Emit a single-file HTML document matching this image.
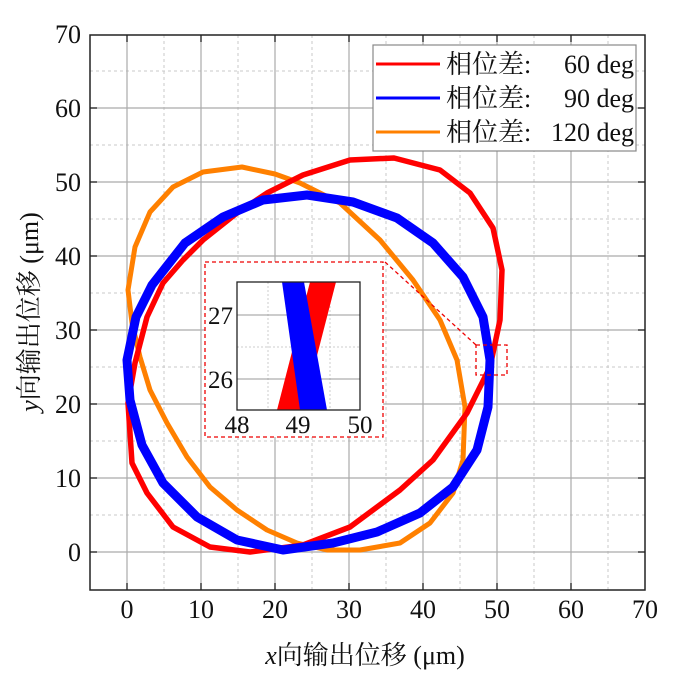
<!DOCTYPE html>
<html><head><meta charset="utf-8"><style>body{margin:0;background:#fff}svg{display:block}</style></head><body>
<svg width="693" height="693" viewBox="0 0 693 693" xmlns="http://www.w3.org/2000/svg" font-family="'Liberation Serif','Noto Serif CJK SC',serif">
<defs><clipPath id="c"><rect x="90" y="35" width="555" height="555"/></clipPath></defs>
<g stroke="#c8c8c8" stroke-width="1" stroke-dasharray="3,3">
<line x1="164" y1="35" x2="164" y2="590"/><line x1="238" y1="35" x2="238" y2="590"/><line x1="312" y1="35" x2="312" y2="590"/><line x1="386" y1="35" x2="386" y2="590"/><line x1="460" y1="35" x2="460" y2="590"/><line x1="534" y1="35" x2="534" y2="590"/><line x1="608" y1="35" x2="608" y2="590"/>
<line x1="90" y1="515" x2="645" y2="515"/><line x1="90" y1="441" x2="645" y2="441"/><line x1="90" y1="367" x2="645" y2="367"/><line x1="90" y1="293" x2="645" y2="293"/><line x1="90" y1="219" x2="645" y2="219"/><line x1="90" y1="145" x2="645" y2="145"/><line x1="90" y1="71" x2="645" y2="71"/>
</g>
<g stroke="#aaa" stroke-width="1.2">
<line x1="127" y1="35" x2="127" y2="590"/><line x1="201" y1="35" x2="201" y2="590"/><line x1="275" y1="35" x2="275" y2="590"/><line x1="349" y1="35" x2="349" y2="590"/><line x1="423" y1="35" x2="423" y2="590"/><line x1="497" y1="35" x2="497" y2="590"/><line x1="571" y1="35" x2="571" y2="590"/>
<line x1="90" y1="552" x2="645" y2="552"/><line x1="90" y1="478" x2="645" y2="478"/><line x1="90" y1="404" x2="645" y2="404"/><line x1="90" y1="330" x2="645" y2="330"/><line x1="90" y1="256" x2="645" y2="256"/><line x1="90" y1="182" x2="645" y2="182"/><line x1="90" y1="108" x2="645" y2="108"/>
</g>
<g fill="none" stroke-linejoin="round" clip-path="url(#c)">
<polygon stroke="#ff8000" stroke-width="5" points="242,167 275,174 300,183 340,203 380,240 413,280 440,320 457,360 465,407 463,460 453,493 430,523 400,543 360,550 327,550 297,543 267,530 237,510 210,487 187,457 167,423 150,390 140,357 132,323 128,290 135,247 150,212 173,187 203,172"/>
<polygon stroke="#ff0000" stroke-width="5.5" points="394,158 440,170 470,193 493,228 502,270 500,320 490,367 467,413 433,460 400,490 350,527 303,545 250,552 210,547 173,527 147,493 132,463 128,403 135,363 147,317 163,283 183,260 203,240 237,213 267,193 303,175 350,160"/>
<polygon stroke="#0000ff" stroke-width="9" points="307,195 353,202 397,218 433,243 463,277 483,317 490,360 488,407 477,450 453,487 420,513 377,532 333,543 283,550 237,540 197,517 163,483 142,445 130,400 127,360 136,317 152,285 185,243 223,217 263,200"/>
</g>
<rect x="90" y="35" width="555" height="555" fill="none" stroke="#222" stroke-width="1.5"/>
<g stroke="#222" stroke-width="1.3">
<line x1="127" y1="590" x2="127" y2="583"/><line x1="201" y1="590" x2="201" y2="583"/><line x1="275" y1="590" x2="275" y2="583"/><line x1="349" y1="590" x2="349" y2="583"/><line x1="423" y1="590" x2="423" y2="583"/><line x1="497" y1="590" x2="497" y2="583"/><line x1="571" y1="590" x2="571" y2="583"/>
<line x1="127" y1="35" x2="127" y2="42"/><line x1="201" y1="35" x2="201" y2="42"/><line x1="275" y1="35" x2="275" y2="42"/><line x1="349" y1="35" x2="349" y2="42"/><line x1="423" y1="35" x2="423" y2="42"/><line x1="497" y1="35" x2="497" y2="42"/><line x1="571" y1="35" x2="571" y2="42"/>
<line x1="90" y1="552" x2="97" y2="552"/><line x1="90" y1="478" x2="97" y2="478"/><line x1="90" y1="404" x2="97" y2="404"/><line x1="90" y1="330" x2="97" y2="330"/><line x1="90" y1="256" x2="97" y2="256"/><line x1="90" y1="182" x2="97" y2="182"/><line x1="90" y1="108" x2="97" y2="108"/>
<line x1="645" y1="552" x2="638" y2="552"/><line x1="645" y1="478" x2="638" y2="478"/><line x1="645" y1="404" x2="638" y2="404"/><line x1="645" y1="330" x2="638" y2="330"/><line x1="645" y1="256" x2="638" y2="256"/><line x1="645" y1="182" x2="638" y2="182"/><line x1="645" y1="108" x2="638" y2="108"/>
</g>
<!-- inset -->
<rect x="205" y="262" width="178" height="175" fill="#fff" stroke="#e00" stroke-width="1.3" stroke-dasharray="4,3"/>
<rect x="476" y="345" width="31" height="30" fill="none" stroke="#e00" stroke-width="1.3" stroke-dasharray="4,3"/>
<line x1="385" y1="262" x2="476" y2="345" stroke="#e00" stroke-width="1.3" stroke-dasharray="4,3"/>
<g stroke="#ccc" stroke-dasharray="2,2"><line x1="268" y1="282" x2="268" y2="410"/><line x1="330" y1="282" x2="330" y2="410"/><line x1="237" y1="347" x2="360" y2="347"/></g>
<g stroke="#999"><line x1="298" y1="282" x2="298" y2="410"/><line x1="237" y1="315" x2="360" y2="315"/><line x1="237" y1="379" x2="360" y2="379"/></g>
<polygon fill="#ff0000" points="310,282 336,282 303,410 277,410"/>
<polygon fill="#0000ff" points="282,282 304,282 327,410 300,410"/>
<rect x="237" y="282" width="123" height="128" fill="none" stroke="#222" stroke-width="1.3"/>
<g font-size="25" fill="#111">
<text x="233" y="324" text-anchor="end">27</text><text x="233" y="388" text-anchor="end">26</text>
<text x="237" y="433" text-anchor="middle">48</text><text x="298" y="433" text-anchor="middle">49</text><text x="360" y="433" text-anchor="middle">50</text>
</g>
<!-- labels -->
<g font-size="26" fill="#111">
<text x="81" y="561" text-anchor="end">0</text><text x="81" y="487" text-anchor="end">10</text><text x="81" y="413" text-anchor="end">20</text><text x="81" y="339" text-anchor="end">30</text><text x="81" y="265" text-anchor="end">40</text><text x="81" y="191" text-anchor="end">50</text><text x="81" y="117" text-anchor="end">60</text><text x="81" y="43" text-anchor="end">70</text>
<text x="127" y="618" text-anchor="middle">0</text><text x="201" y="618" text-anchor="middle">10</text><text x="275" y="618" text-anchor="middle">20</text><text x="349" y="618" text-anchor="middle">30</text><text x="423" y="618" text-anchor="middle">40</text><text x="497" y="618" text-anchor="middle">50</text><text x="571" y="618" text-anchor="middle">60</text><text x="645" y="618" text-anchor="middle">70</text>
</g>
<text x="365" y="664" font-size="26" text-anchor="middle" fill="#111"><tspan font-style="italic">x</tspan>向输出位移 (μm)</text>
<text transform="translate(38,312) rotate(-90)" font-size="26" text-anchor="middle" fill="#111"><tspan font-style="italic">y</tspan>向输出位移 (μm)</text>
<!-- legend -->
<rect x="373" y="45" width="263" height="106" fill="#fff" stroke="#888" stroke-width="1.2"/>
<line x1="376" y1="64" x2="440" y2="64" stroke="#ff0000" stroke-width="3"/>
<line x1="376" y1="98" x2="440" y2="98" stroke="#0000ff" stroke-width="3"/>
<line x1="376" y1="132" x2="440" y2="132" stroke="#ff8000" stroke-width="3"/>
<g font-size="26" fill="#111">
<text x="446" y="73">相位差:</text><text x="634" y="73" text-anchor="end">60 deg</text>
<text x="446" y="107">相位差:</text><text x="634" y="107" text-anchor="end">90 deg</text>
<text x="446" y="141">相位差:</text><text x="634" y="141" text-anchor="end">120 deg</text>
</g>
</svg>
</body></html>
